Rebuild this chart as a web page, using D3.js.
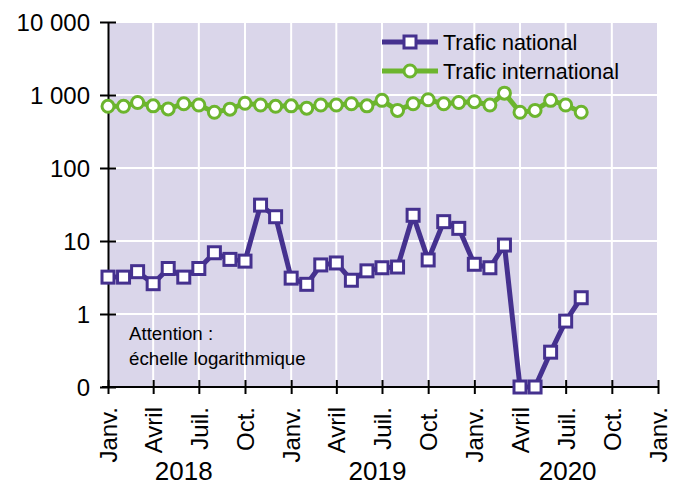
<!DOCTYPE html>
<html>
<head>
<meta charset="utf-8">
<script src="https://d3js.org/d3.v7.min.js"></script>
<style>
  body { margin: 0; background: #fff; }
  text { font-family: "Liberation Sans", Arial, sans-serif; fill: #000; }
</style>
</head>
<body>
<svg id="chart" width="684" height="484"></svg>
<script>
// monthly data, Janv. 2018 -> Août 2020
var months = d3.range(32).map(function(i) { return new Date(2018, i, 1); });
var national = [3.2, 3.2, 3.8, 2.6, 4.2, 3.2, 4.2, 6.9, 5.6, 5.3, 31, 21.5,
                3.1, 2.55, 4.7, 5.0, 2.9, 3.9, 4.3, 4.4, 22.5, 5.5, 18.4, 14.9,
                4.8, 4.3, 8.8, 0, 0, 0.3, 0.8, 1.67];
var international = [700, 700, 790, 710, 645, 760, 730, 580, 640, 770, 730, 700,
                     710, 660, 730, 730, 760, 710, 845, 615, 760, 860, 760, 790,
                     810, 730, 1060, 580, 615, 845, 730, 580];
var yTicks = [0.1, 1, 10, 100, 1000, 10000];
var yTickLabels = ["0", "1", "10", "100", "1 000", "10 000"];
var monthNames = ["Janv.", "Avril", "Juil.", "Oct."];
var years = [2018, 2019, 2020];

var svg = d3.select("#chart");
var pLeft = 108, pRight = 658, pTop = 22, pBottom = 387;

var x = d3.scaleTime()
    .domain([new Date(2018, 0, 1), new Date(2021, 0, 1)])
    .range([pLeft, pRight]);
// "0" is drawn at the bottom of the log axis
var y = d3.scaleLog().domain([0.1, 10000]).range([pBottom, pTop]).clamp(true);
var yv = function(v) { return y(v <= 0 ? 0.1 : v); };

var qTicks = d3.timeMonth.every(3).range(new Date(2018, 0, 1), new Date(2021, 0, 2));

// background
svg.append("rect")
    .attr("x", pLeft).attr("y", pTop)
    .attr("width", pRight - pLeft).attr("height", pBottom - pTop)
    .attr("fill", "#dad6ea");

// grid
svg.append("g").selectAll("line").data(qTicks).enter().append("line")
    .attr("x1", function(d) { return x(d); }).attr("x2", function(d) { return x(d); })
    .attr("y1", pTop).attr("y2", pBottom)
    .attr("stroke", "#fff").attr("stroke-width", 2);
svg.append("g").selectAll("line").data(yTicks).enter().append("line")
    .attr("x1", pLeft).attr("x2", pRight)
    .attr("y1", function(d) { return y(d); }).attr("y2", function(d) { return y(d); })
    .attr("stroke", "#fff").attr("stroke-width", 2);

// y axis
var yAxis = d3.axisLeft(y).tickValues(yTicks)
    .tickFormat(function(d, i) { return yTickLabels[i]; })
    .tickSizeInner(8).tickSizeOuter(0).tickPadding(10);
var gy = svg.append("g").attr("transform", "translate(" + pLeft + ",0)").call(yAxis);
gy.attr("font-size", null).attr("font-family", null);
gy.select(".domain").attr("stroke", "#000").attr("stroke-width", 2);
gy.selectAll(".tick line").attr("stroke", "#000").attr("stroke-width", 2).attr("x2", 8).attr("x1", -8);
gy.selectAll(".tick text").style("font-size", "24px").attr("dy", "0.36em");

// x axis
var xAxis = d3.axisBottom(x).tickValues(qTicks)
    .tickFormat(function(d) { return monthNames[d.getMonth() / 3]; })
    .tickSizeInner(7).tickSizeOuter(0);
var gx = svg.append("g").attr("transform", "translate(0," + pBottom + ")").call(xAxis);
gx.attr("font-size", null).attr("font-family", null);
gx.select(".domain").attr("stroke", "#000").attr("stroke-width", 2)
    .attr("d", "M" + (pLeft - 6) + ",0H" + pRight);
gx.selectAll(".tick line").attr("stroke", "#000").attr("stroke-width", 2).attr("y1", -7).attr("y2", 7);
gx.selectAll(".tick text")
    .style("font-size", "24px")
    .attr("text-anchor", "end")
    .attr("transform", "rotate(-90)")
    .attr("x", -20).attr("y", 0).attr("dy", "0.36em");

// years
var yearPos = [new Date(2018, 5, 1), new Date(2019, 5, 22), new Date(2020, 6, 5)];
svg.append("g").selectAll("text").data(years).enter().append("text")
    .attr("x", function(d, i) { return x(yearPos[i]); })
    .attr("y", 480)
    .attr("text-anchor", "middle")
    .style("font-size", "26px")
    .text(function(d) { return d; });

// series
var line = d3.line()
    .x(function(d, i) { return x(months[i]); })
    .y(function(d) { return yv(d); });

var purple = "#45318f", green = "#6cb52e";

svg.append("path").datum(international)
    .attr("d", line).attr("fill", "none")
    .attr("stroke", green).attr("stroke-width", 5).attr("stroke-linejoin", "round");
svg.append("g").selectAll("circle").data(international).enter().append("circle")
    .attr("cx", function(d, i) { return x(months[i]); })
    .attr("cy", function(d) { return yv(d); })
    .attr("r", 6)
    .attr("fill", "#fff").attr("stroke", green).attr("stroke-width", 3);

svg.append("path").datum(national)
    .attr("d", line).attr("fill", "none")
    .attr("stroke", purple).attr("stroke-width", 5).attr("stroke-linejoin", "round");
svg.append("g").selectAll("rect").data(national).enter().append("rect")
    .attr("x", function(d, i) { return x(months[i]) - 6; })
    .attr("y", function(d) { return yv(d) - 6; })
    .attr("width", 12).attr("height", 12)
    .attr("fill", "#fff").attr("stroke", purple).attr("stroke-width", 3);

// legend
var legend = svg.append("g");
var items = [{ name: "Trafic national", color: purple, shape: "rect" },
             { name: "Trafic international", color: green, shape: "circle" }];
items.forEach(function(it, i) {
    var ly = 42 + i * 29;
    legend.append("line").attr("x1", 382).attr("x2", 438).attr("y1", ly).attr("y2", ly)
        .attr("stroke", it.color).attr("stroke-width", 5);
    if (it.shape === "rect") {
        legend.append("rect").attr("x", 404).attr("y", ly - 6).attr("width", 12).attr("height", 12)
            .attr("fill", "#fff").attr("stroke", it.color).attr("stroke-width", 3);
    } else {
        legend.append("circle").attr("cx", 410).attr("cy", ly).attr("r", 6)
            .attr("fill", "#fff").attr("stroke", it.color).attr("stroke-width", 3);
    }
    legend.append("text").attr("x", 443).attr("y", ly).attr("dy", "0.36em")
        .style("font-size", "21.5px").text(it.name);
});

// note
svg.append("text").attr("x", 129).attr("y", 340).style("font-size", "18.7px").text("Attention :");
svg.append("text").attr("x", 129).attr("y", 365).style("font-size", "18.7px").text("échelle logarithmique");
</script>
</body>
</html>
